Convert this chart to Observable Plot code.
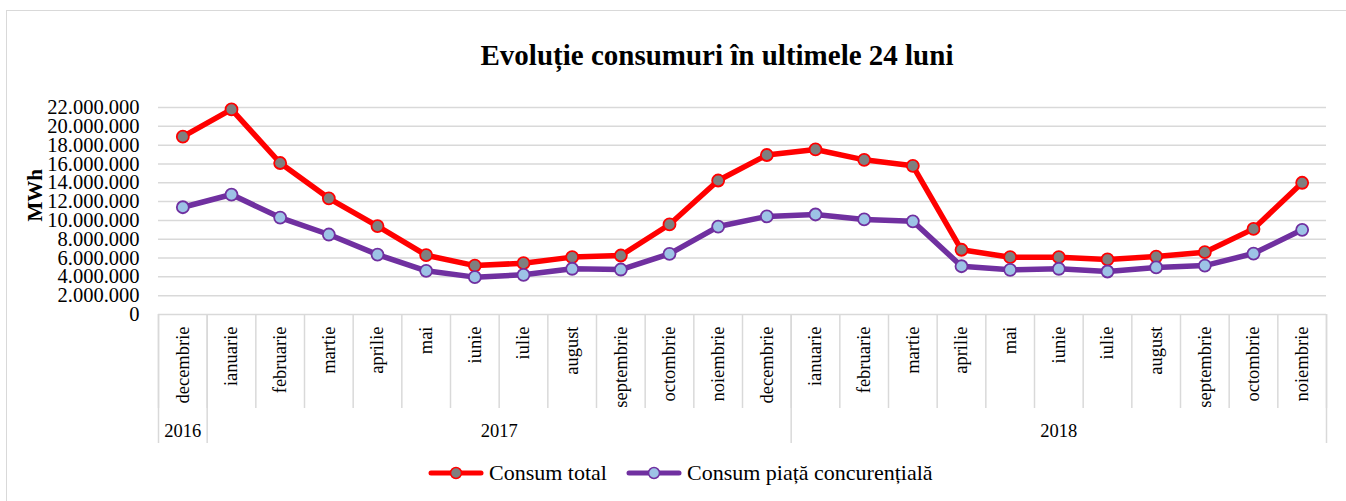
<!DOCTYPE html>
<html>
<head>
<meta charset="utf-8">
<script src="https://cdn.jsdelivr.net/npm/d3@7"></script>
<script src="https://cdn.jsdelivr.net/npm/@observablehq/plot@0.6"></script>
<style>
  html, body { margin: 0; padding: 0; background: #fff; }
  body { width: 1346px; height: 501px; position: relative; overflow: hidden;
         font-family: "Liberation Serif", "Times New Roman", serif; color: #000; }
  #frame { position: absolute; left: 6px; top: 10px; width: 1400px; height: 600px;
           border: 1.5px solid #d9d9d9; }
  #title { position: absolute; left: 0; width: 1434px; top: 41px; text-align: center;
           font-weight: bold; font-size: 29px; line-height: 29px; }
  #chart { position: absolute; left: 0; top: 90px; }
  #chart svg, #chart svg text { font-family: "Liberation Serif", "Times New Roman", serif; }
  #legend { position: absolute; left: 428px; top: 461px; display: flex; align-items: center;
            font-size: 22px; line-height: 24px; }
  #legend .item { display: flex; align-items: center; margin-right: 19px; }
  #legend svg { margin-right: 5px; }
</style>
</head>
<body>
<div id="frame"></div>
<div id="title">Evoluție consumuri în ultimele 24 luni</div>
<div id="chart"></div>
<div id="legend"></div>
<script>
// ---- Data ----
const months = ["decembrie","ianuarie","februarie","martie","aprilie","mai","iunie","iulie","august","septembrie","octombrie","noiembrie",
                "decembrie","ianuarie","februarie","martie","aprilie","mai","iunie","iulie","august","septembrie","octombrie","noiembrie"];
const years = ["2016",
               "2017","2017","2017","2017","2017","2017","2017","2017","2017","2017","2017","2017",
               "2018","2018","2018","2018","2018","2018","2018","2018","2018","2018","2018"];
const consumTotal = [18900000, 21800000, 16100000, 12350000, 9400000, 6300000, 5200000, 5450000, 6100000, 6270000, 9570000, 14240000,
                     16950000, 17540000, 16440000, 15800000, 6880000, 6090000, 6090000, 5850000, 6160000, 6620000, 9100000, 14000000];
const consumConcurential = [11400000, 12750000, 10300000, 8500000, 6370000, 4640000, 3970000, 4220000, 4860000, 4780000, 6450000, 9350000,
                            10420000, 10630000, 10100000, 9900000, 5130000, 4750000, 4860000, 4570000, 5000000, 5200000, 6480000, 9000000];
const yTicks = [0, 2000000, 4000000, 6000000, 8000000, 10000000, 12000000, 14000000, 16000000, 18000000, 20000000, 22000000];
const seriesNames = ["Consum total", "Consum piață concurențială"];

// ---- Derived tables ----
const idx = d3.range(months.length);
const data = idx.map(i => ({i, total: consumTotal[i], conc: consumConcurential[i]}));
const yearGroups = d3.groups(idx, i => years[i]).map(([year, is]) => ({year, center: d3.mean(is), start: is[0]}));
const monthSeps = d3.range(months.length + 1).map(k => k - 0.5);
const yearSeps = [...yearGroups.map(g => g.start - 0.5), months.length - 0.5];
const fmt = v => d3.format(",")(v).replace(/,/g, ".");

const RED = "#ff0000", GREY = "#7f7f7f", PURPLE = "#7030a0", LIGHTBLUE = "#9dc3e6", GRID = "#d9d9d9";
const FONT = "'Liberation Serif', 'Times New Roman', serif";

const chart = Plot.plot({
  width: 1346,
  height: 360,
  marginLeft: 158,
  marginRight: 20,
  marginTop: 17,
  marginBottom: 136,
  x: {type: "linear", domain: [-0.5, months.length - 0.5], label: null},
  y: {domain: [0, 22000000], label: null},
  style: `font-family: ${FONT}; font-size: 20px; color: #000; background: transparent; overflow: visible;`,
  marks: [
    Plot.gridY(yTicks, {stroke: GRID, strokeWidth: 1.5, strokeOpacity: 1}),
    Plot.axisY(yTicks, {tickSize: 0, tickPadding: 19, tickFormat: fmt, fontSize: 20.5, label: null}),
    Plot.axisX(monthSeps, {tickSize: 94, tickFormat: () => "", stroke: GRID, strokeWidth: 1.5, strokeOpacity: 1, label: null}),
    Plot.axisX(yearSeps, {tickSize: 129, tickFormat: () => "", stroke: GRID, strokeWidth: 1.5, strokeOpacity: 1, label: null}),
    Plot.text(idx, {x: d => d, text: d => months[d], frameAnchor: "bottom", dy: 12, rotate: -90,
                    textAnchor: "end", lineAnchor: "middle", fontSize: 18.5, fontFamily: FONT}),
    Plot.text(yearGroups, {x: "center", text: "year", frameAnchor: "bottom", dy: 116.5, lineAnchor: "middle",
                           fontSize: 18.5, fontFamily: FONT}),
    Plot.text(["MWh"], {text: d => d, frameAnchor: "left", dx: -123.5, dy: 10.5, rotate: -90,
                        lineAnchor: "middle", fontWeight: "bold", fontSize: 21, fontFamily: FONT}),
    Plot.line(data, {x: "i", y: "total", stroke: RED, strokeWidth: 5.5}),
    Plot.dot(data, {x: "i", y: "total", r: 6, fill: GREY, stroke: RED, strokeWidth: 1.8}),
    Plot.line(data, {x: "i", y: "conc", stroke: PURPLE, strokeWidth: 5.5}),
    Plot.dot(data, {x: "i", y: "conc", r: 6, fill: LIGHTBLUE, stroke: PURPLE, strokeWidth: 1.8})
  ]
});
document.getElementById("chart").appendChild(chart);

// ---- Legend ----
const legend = document.getElementById("legend");
[[seriesNames[0], RED, GREY], [seriesNames[1], PURPLE, LIGHTBLUE]].forEach(([name, stroke, fill]) => {
  const item = document.createElement("span");
  item.className = "item";
  item.innerHTML = `<svg width="56" height="16"><line x1="3" y1="8" x2="53" y2="8" stroke="${stroke}" stroke-width="5" stroke-linecap="round"/>` +
    `<circle cx="28" cy="8" r="5.5" fill="${fill}" stroke="${stroke}" stroke-width="1.5"/></svg><span>${name}</span>`;
  legend.appendChild(item);
});
</script>
</body>
</html>
